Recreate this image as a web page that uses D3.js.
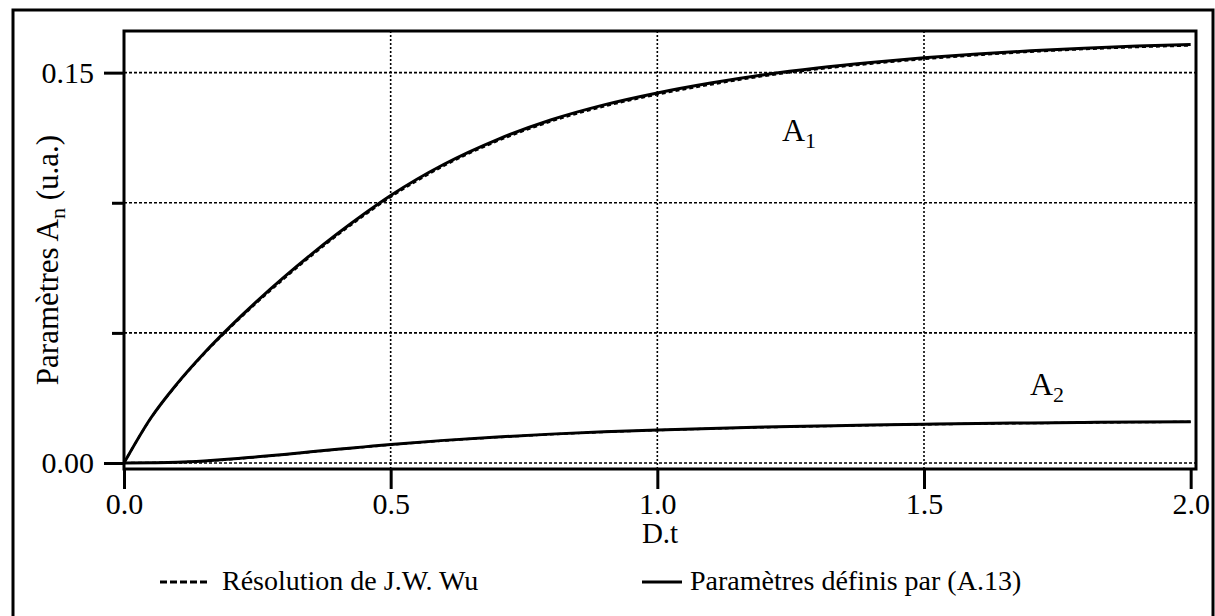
<!DOCTYPE html>
<html>
<head>
<meta charset="utf-8">
<script src="https://cdn.jsdelivr.net/npm/d3@7"></script>
<style>
  html, body { margin: 0; padding: 0; background: #fff; }
  svg { display: block; }
  text { font-family: "Liberation Serif", "Tinos", "Times New Roman", "DejaVu Serif", serif; fill: #000; }
</style>
</head>
<body>
<svg id="chart" width="1215" height="616"></svg>
<script>
const SERIF = "'Liberation Serif', 'Tinos', 'Times New Roman', 'DejaVu Serif', serif";

// Reduced time D.t
const tValues = [0, 0.05, 0.1, 0.15, 0.2, 0.25, 0.3, 0.35, 0.4, 0.45, 0.5,
  0.6, 0.7, 0.8, 0.9, 1.0, 1.1, 1.2, 1.3, 1.4, 1.5, 1.6, 1.7, 1.8, 1.9, 2.0];

// Parameters defined by (A.13)
const a1Model = [0, 0.0172, 0.0306, 0.0422, 0.0526, 0.0623, 0.0714, 0.0800, 0.0881, 0.0957, 0.1028,
  0.1148, 0.1243, 0.1318, 0.1376, 0.1422, 0.1460, 0.1492, 0.1518, 0.1539, 0.1557, 0.1572, 0.1584, 0.1594, 0.1602, 0.1608];
const a2Model = [0, 0.0001, 0.0003, 0.0008, 0.0015, 0.0024, 0.0033, 0.0043, 0.0053, 0.0062, 0.0071,
  0.0087, 0.0100, 0.0111, 0.0120, 0.0127, 0.0133, 0.0138, 0.0142, 0.0146, 0.0149, 0.0152, 0.0154, 0.0156, 0.0158, 0.0159];

// J.W. Wu resolution
const a1Wu = [0, 0.0171, 0.0304, 0.0419, 0.0522, 0.0618, 0.0708, 0.0794, 0.0875, 0.0951, 0.1022,
  0.1142, 0.1237, 0.1312, 0.1370, 0.1416, 0.1454, 0.1487, 0.1513, 0.1534, 0.1552, 0.1567, 0.1580, 0.1590, 0.1598, 0.1604];
const a2Wu = [0, 0.0001, 0.0003, 0.0007, 0.0014, 0.0023, 0.0032, 0.0042, 0.0052, 0.0061, 0.0070,
  0.0086, 0.0099, 0.0110, 0.0119, 0.0126, 0.0132, 0.0137, 0.0141, 0.0145, 0.0148, 0.0151, 0.0153, 0.0155, 0.0157, 0.0158];

const xTicks = [0, 0.5, 1.0, 1.5, 2.0];
const xTickLabels = ["0.0", "0.5", "1.0", "1.5", "2.0"];
const yMajorTicks = [0, 0.15];
const yMajorLabels = ["0.00", "0.15"];
const yMinorTicks = [0.05, 0.10];
const xGrid = [0.5, 1.0, 1.5];
const yGrid = [0, 0.05, 0.10, 0.15];

const svg = d3.select("#chart");

const plot = { left: 124, top: 31, right: 1196, bottom: 469 };

const x = d3.scaleLinear().domain([0, 2.01]).range([plot.left, plot.right]);
const y = d3.scaleLinear().domain([-0.0023, 0.166]).range([plot.bottom, plot.top]);

// outer frame
svg.append("rect")
  .attr("x", 13).attr("y", 10).attr("width", 1200).attr("height", 620)
  .attr("fill", "none").attr("stroke", "#000").attr("stroke-width", 3);

// grid
const grid = svg.append("g").attr("stroke", "#000").attr("stroke-width", 1.6).attr("fill", "none");
grid.selectAll("line.h").data(yGrid).join("line")
  .attr("class", "h")
  .attr("x1", plot.left).attr("x2", plot.right)
  .attr("y1", d => y(d)).attr("y2", d => y(d))
  .attr("stroke-dasharray", "3,2");
grid.selectAll("line.v").data(xGrid).join("line")
  .attr("class", "v")
  .attr("x1", d => x(d)).attr("x2", d => x(d))
  .attr("y1", plot.top).attr("y2", plot.bottom)
  .attr("stroke-dasharray", "2,2");

// curves
const pts = vals => tValues.map((t, i) => [t, vals[i]]);
const line = d3.line().x(d => x(d[0])).y(d => y(d[1])).curve(d3.curveMonotoneX);

[a1Wu, a2Wu].forEach(s => {
  svg.append("path").attr("d", line(pts(s)))
    .attr("fill", "none").attr("stroke", "#000").attr("stroke-width", 2.2)
    .attr("stroke-dasharray", "4,3");
});
[a1Model, a2Model].forEach(s => {
  svg.append("path").attr("d", line(pts(s)))
    .attr("fill", "none").attr("stroke", "#000").attr("stroke-width", 3);
});

// plot frame
svg.append("rect")
  .attr("x", plot.left).attr("y", plot.top)
  .attr("width", plot.right - plot.left).attr("height", plot.bottom - plot.top)
  .attr("fill", "none").attr("stroke", "#000").attr("stroke-width", 3);

// axes
const styleAxis = g => {
  g.attr("font-family", SERIF);
  g.select(".domain").remove();
  g.selectAll(".tick line").attr("stroke", "#000").attr("stroke-width", 3);
  g.selectAll(".tick text").attr("fill", "#000").attr("font-size", 30)
    .attr("font-family", SERIF);
};

const xAxisG = svg.append("g")
  .attr("transform", `translate(0,${plot.bottom})`)
  .call(d3.axisBottom(x).tickValues(xTicks).tickSize(20).tickPadding(5)
    .tickFormat((d, i) => xTickLabels[i]))
  .call(styleAxis);
xAxisG.selectAll(".tick text").attr("dy", null).attr("y", 45);

svg.append("g")
  .attr("transform", `translate(${plot.left},0)`)
  .call(d3.axisLeft(y).tickValues(yMajorTicks).tickSize(20).tickPadding(10)
    .tickFormat((d, i) => yMajorLabels[i]))
  .call(styleAxis);

svg.append("g")
  .attr("transform", `translate(${plot.left},0)`)
  .call(d3.axisLeft(y).tickValues(yMinorTicks).tickSize(12).tickFormat(""))
  .call(styleAxis);

// axis titles
svg.append("text")
  .attr("x", 660).attr("y", 543)
  .attr("text-anchor", "middle").attr("font-size", 29).attr("font-family", SERIF)
  .text("D.t");

const yTitle = svg.append("text")
  .attr("transform", "translate(58,260) rotate(-90)")
  .attr("text-anchor", "middle").attr("font-size", 31).attr("font-family", SERIF);
yTitle.append("tspan").text("Paramètres A");
yTitle.append("tspan").attr("dy", 7).attr("font-size", 22).text("n");
yTitle.append("tspan").attr("dy", -7).text(" (u.a.)");

// curve labels
const curveLabel = (xp, yp, sub) => {
  const t = svg.append("text").attr("x", xp).attr("y", yp)
    .attr("font-size", 32).attr("font-family", SERIF);
  t.append("tspan").text("A");
  t.append("tspan").attr("dy", 7).attr("font-size", 22).text(sub);
};
curveLabel(782, 141, "1");
curveLabel(1030, 395, "2");

// legend
const legendY = 582;
svg.append("line").attr("x1", 160).attr("x2", 210).attr("y1", legendY).attr("y2", legendY)
  .attr("stroke", "#000").attr("stroke-width", 3).attr("stroke-dasharray", "7,3");
svg.append("text").attr("x", 222).attr("y", 590)
  .attr("font-size", 28).attr("font-family", SERIF)
  .text("Résolution de J.W. Wu");
svg.append("line").attr("x1", 642).attr("x2", 682).attr("y1", legendY).attr("y2", legendY)
  .attr("stroke", "#000").attr("stroke-width", 3);
svg.append("text").attr("x", 690).attr("y", 590)
  .attr("font-size", 28).attr("font-family", SERIF)
  .text("Paramètres définis par (A.13)");
</script>
</body>
</html>
